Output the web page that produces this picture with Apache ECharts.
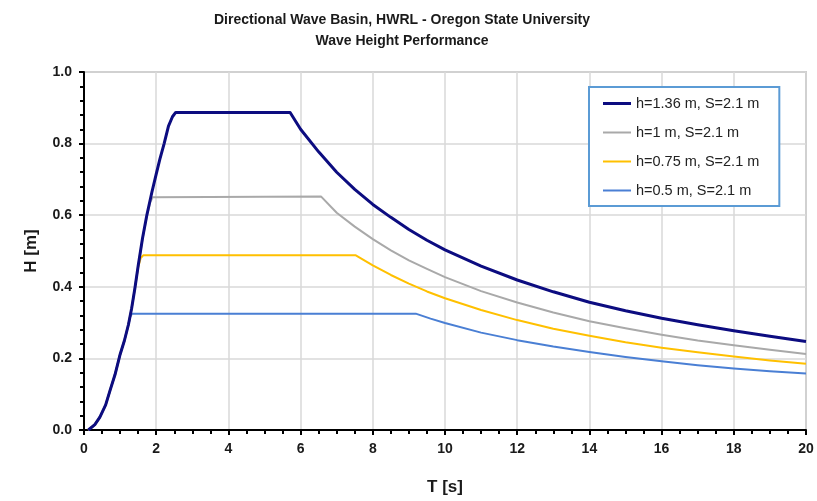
<!DOCTYPE html>
<html>
<head>
<meta charset="utf-8">
<script src="https://cdn.jsdelivr.net/npm/echarts@6/dist/echarts.min.js"></script>
<style>
  html, body { margin: 0; padding: 0; background: #fff; }
  #chart { width: 817px; height: 501px; }
</style>
</head>
<body>
<div id="chart"></div>
<script>
// values, [T (s), H (m)]
const seriesNames = ['h=1.36 m, S=2.1 m', 'h=1 m, S=2.1 m', 'h=0.75 m, S=2.1 m', 'h=0.5 m, S=2.1 m']
const h136 = [
  [0.12, 0], [0.3, 0.015], [0.44, 0.036], [0.6, 0.07], [0.72, 0.11], [0.86, 0.155], [1.0, 0.211],
  [1.12, 0.25], [1.23, 0.294], [1.32, 0.34], [1.41, 0.396], [1.5, 0.458], [1.62, 0.535],
  [1.74, 0.6], [1.88, 0.664], [2.0, 0.715], [2.1, 0.756], [2.22, 0.8], [2.34, 0.849], [2.45, 0.875],
  [2.54, 0.887], [5.71, 0.887], [6.0, 0.84], [6.5, 0.777], [7.0, 0.72], [7.5, 0.672], [8.0, 0.63],
  [8.5, 0.594], [9.0, 0.56], [9.5, 0.53], [10.0, 0.503], [11.0, 0.458], [12.0, 0.419], [13.0, 0.386],
  [14.0, 0.357], [15.0, 0.333], [16.0, 0.312], [17.0, 0.294], [18.0, 0.277], [19.0, 0.262], [20.0, 0.247]
]
const h100 = [
  [0.12, 0], [0.3, 0.015], [0.44, 0.036], [0.6, 0.07], [0.72, 0.11], [0.86, 0.155], [1.0, 0.211],
  [1.12, 0.25], [1.23, 0.294], [1.32, 0.34], [1.41, 0.396], [1.5, 0.458], [1.62, 0.533],
  [1.74, 0.596], [1.83, 0.635], [1.9, 0.65], [1.95, 0.652],
  [6.57, 0.652], [7.0, 0.607], [7.5, 0.568], [8.0, 0.533], [8.5, 0.502], [9.0, 0.474], [9.5, 0.45],
  [10.0, 0.427], [11.0, 0.388], [12.0, 0.356], [13.0, 0.328], [14.0, 0.304], [15.0, 0.284],
  [16.0, 0.266], [17.0, 0.25], [18.0, 0.237], [19.0, 0.224], [20.0, 0.212]
]
const h075 = [
  [0.12, 0], [0.3, 0.015], [0.44, 0.036], [0.6, 0.07], [0.72, 0.11], [0.86, 0.155], [1.0, 0.211],
  [1.12, 0.25], [1.23, 0.294], [1.32, 0.34], [1.41, 0.396], [1.5, 0.455], [1.57, 0.48], [1.64, 0.488],
  [7.53, 0.488], [8.0, 0.46], [8.5, 0.433], [9.0, 0.409], [9.5, 0.387], [10.0, 0.368], [11.0, 0.335],
  [12.0, 0.307], [13.0, 0.283], [14.0, 0.263], [15.0, 0.245], [16.0, 0.23], [17.0, 0.217],
  [18.0, 0.205], [19.0, 0.194], [20.0, 0.185]
]
const h050 = [
  [0.12, 0], [0.3, 0.015], [0.44, 0.036], [0.6, 0.07], [0.72, 0.11], [0.86, 0.155], [1.0, 0.211],
  [1.12, 0.25], [1.23, 0.294], [1.28, 0.316], [1.33, 0.325],
  [9.19, 0.325], [9.6, 0.311], [10.0, 0.299], [11.0, 0.272], [12.0, 0.251], [13.0, 0.233],
  [14.0, 0.218], [15.0, 0.204], [16.0, 0.192], [17.0, 0.181], [18.0, 0.172], [19.0, 0.164], [20.0, 0.158]
]
const lineColors = ['#0c0c80', '#a9a9a9', '#ffc000', '#4a7fd4']
const lineWidths = [3, 2, 2, 2]
const allData = [h136, h100, h075, h050]

const chart = echarts.init(document.getElementById('chart'))
const font = 'Liberation Sans, Arial, sans-serif'

chart.setOption({
  animation: false,
  backgroundColor: '#fff',
  title: {
    text: 'Directional Wave Basin, HWRL - Oregon State University\nWave Height Performance',
    left: 397,
    textAlign: 'center',
    top: 5,
    textStyle: { fontFamily: font, fontSize: 14, fontWeight: 'bold', color: '#1a1a1a', lineHeight: 21 }
  },
  legend: {
    orient: 'vertical',
    left: 589,
    top: 87,
    padding: [9, 20, 8, 14],
    itemWidth: 28,
    itemHeight: 14,
    itemGap: 14,
    borderColor: '#5b9bd5',
    borderWidth: 2,
    backgroundColor: '#fff',
    data: seriesNames.map((n, i) => ({
      name: n,
      icon: 'path://M0,0H28V' + lineWidths[i] + 'H0Z',
      itemStyle: { color: lineColors[i] }
    })),
    textStyle: { fontFamily: font, fontSize: 14.5, color: '#222', padding: [0, 0, 0, 0] }
  },
  grid: {
    left: 84, right: 11, top: 72, bottom: 68,
    show: true, borderColor: '#a6a6a6', borderWidth: 1.5
  },
  xAxis: {
    type: 'value',
    min: 0, max: 20, interval: 2,
    name: 'T [s]',
    nameLocation: 'middle',
    nameGap: 49,
    nameTextStyle: { fontFamily: font, fontSize: 17, fontWeight: 'bold', color: '#1a1a1a' },
    axisLine: { show: true, onZero: false, lineStyle: { color: '#000', width: 2 } },
    axisTick: { show: true, length: 5, lineStyle: { color: '#000', width: 2 } },
    minorTick: { show: true, splitNumber: 4, length: 4, lineStyle: { color: '#000', width: 2 } },
    axisLabel: { fontFamily: font, fontSize: 14, fontWeight: 'bold', color: '#1a1a1a', margin: 12 },
    splitLine: { show: true, lineStyle: { color: '#d9d9d9', width: 1.5 } }
  },
  yAxis: {
    type: 'value',
    min: 0, max: 1, interval: 0.2,
    name: 'H [m]',
    nameLocation: 'middle',
    nameGap: 44,
    nameTextStyle: { fontFamily: font, fontSize: 17, fontWeight: 'bold', color: '#1a1a1a' },
    axisLine: { show: true, lineStyle: { color: '#000', width: 2 } },
    axisTick: { show: true, length: 5, lineStyle: { color: '#000', width: 2 } },
    minorTick: { show: true, splitNumber: 5, length: 4, lineStyle: { color: '#000', width: 2 } },
    axisLabel: {
      fontFamily: font, fontSize: 14, fontWeight: 'bold', color: '#1a1a1a', margin: 12,
      formatter: v => v.toFixed(1)
    },
    splitLine: { show: true, lineStyle: { color: '#d9d9d9', width: 1.5 } }
  },
  series: seriesNames.map((name, i) => ({
    name: name,
    type: 'line',
    data: allData[i],
    symbol: 'none',
    z: 10 - i,
    color: lineColors[i],
    lineStyle: { color: lineColors[i], width: lineWidths[i], join: 'round' }
  }))
})
</script>
</body>
</html>
